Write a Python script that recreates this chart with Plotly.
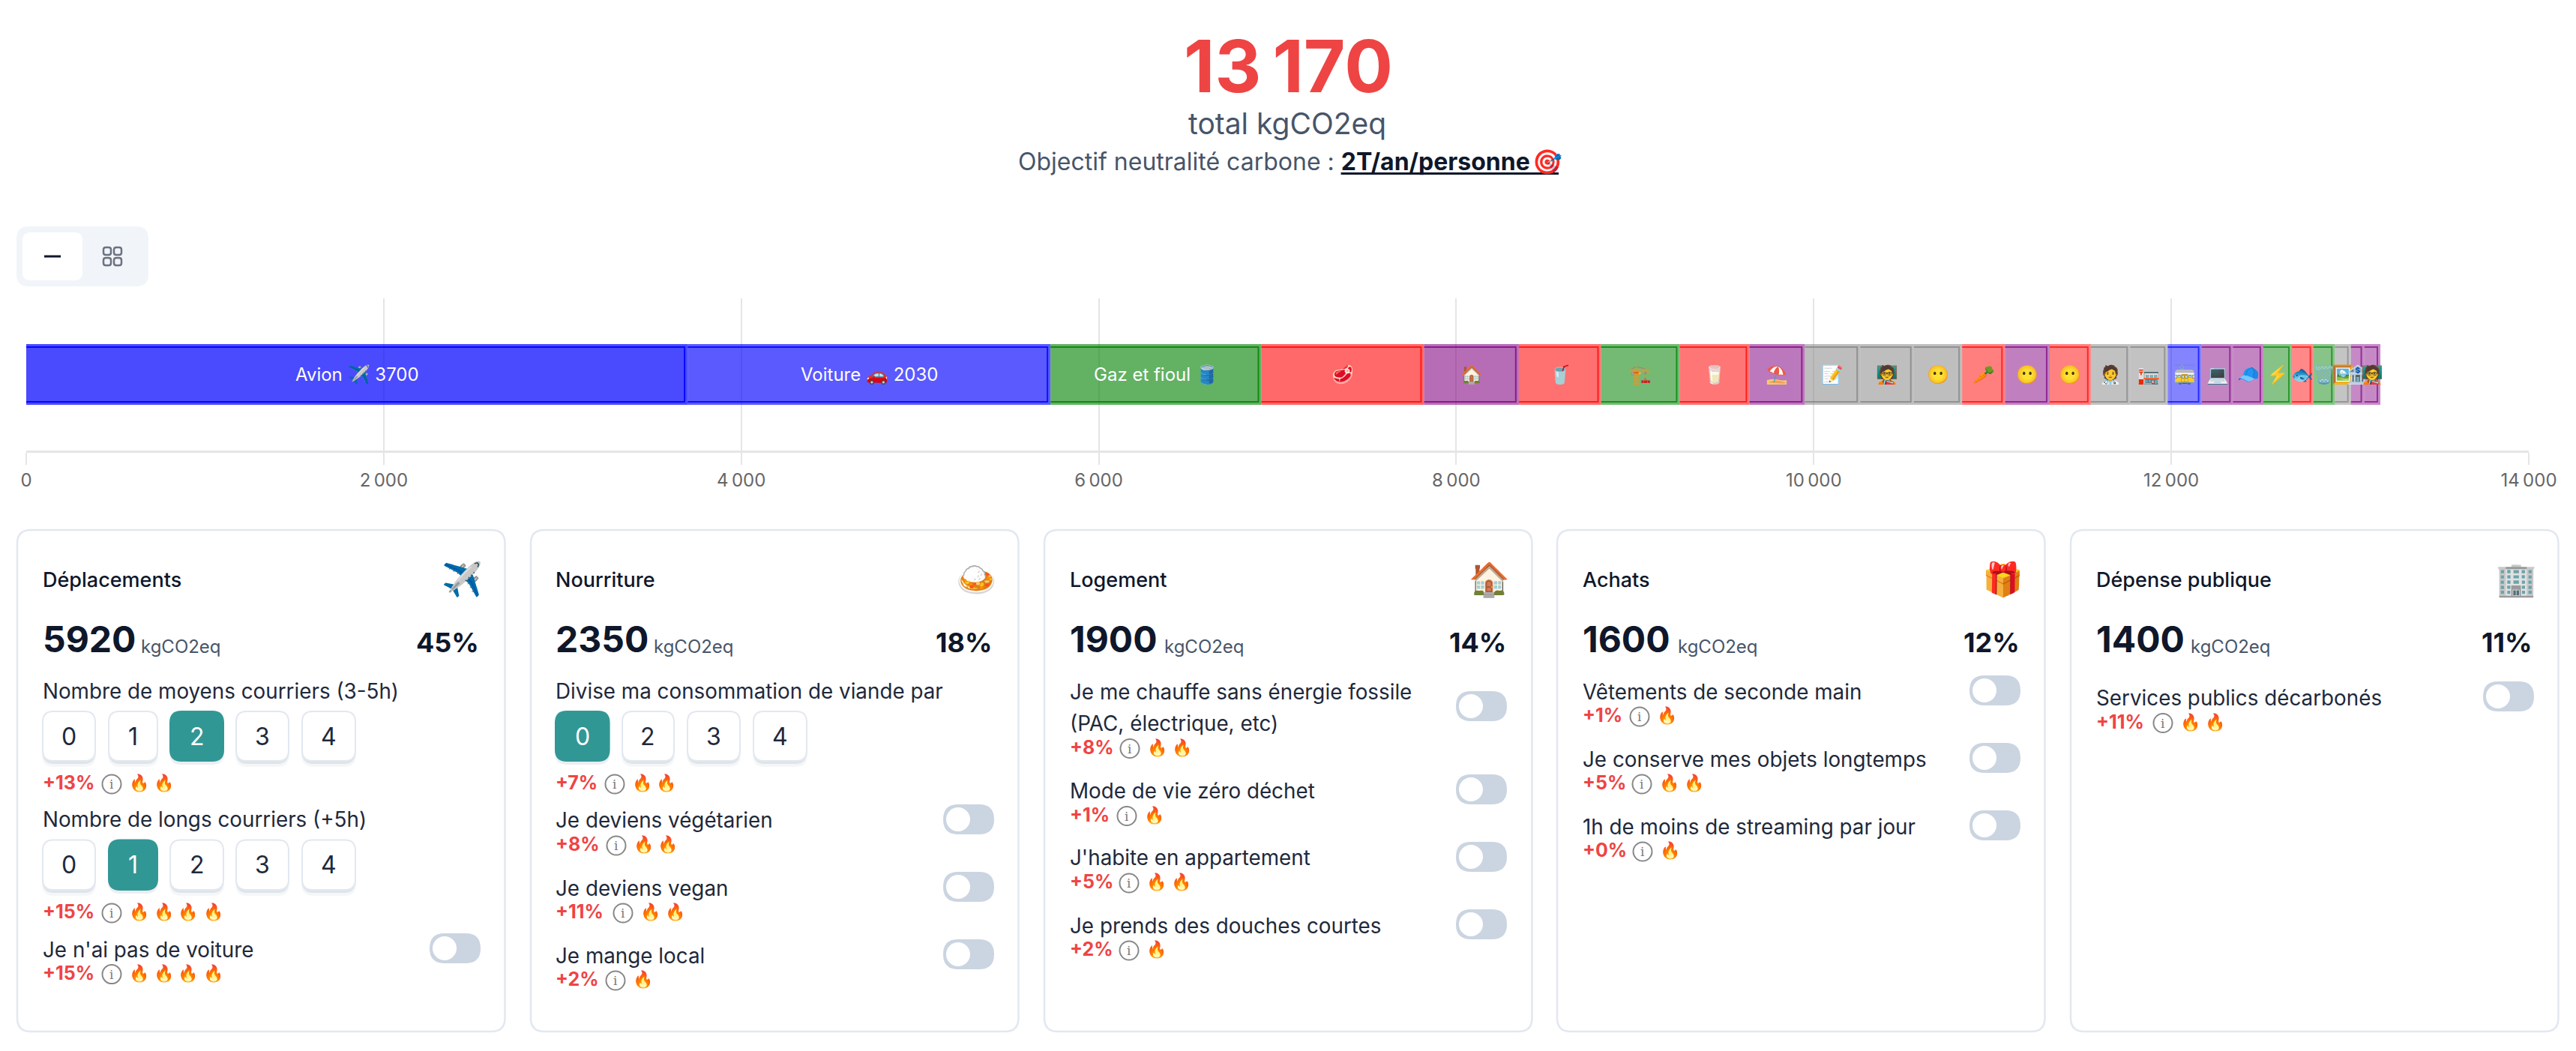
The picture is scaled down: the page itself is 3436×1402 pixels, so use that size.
import plotly.graph_objects as go

W, H = 3436, 1402
FONT = "Inter, 'Noto Sans', sans-serif"
INK = "#0f172a"
SLATE = "#475569"
RED = "#ef4444"
TEAL = "#319795"

total_label = "13\u202f170"
seg_labels = ["Avion", "Voiture", "Gaz et fioul", "", "", "", "", "", "", "", "", "", "", "", "", "", "", "", "", "", "", "", "", "", "", ""]
seg_emoji = ["✈️", "🚗", "🛢️", "🥩", "🏠", "🥤", "🏗️", "🥛", "⛱️", "📝", "🧑‍🏫", "😶", "🥕", "😶", "😶", "🧑‍⚕️", "🏣", "🚋", "💻", "🧢", "⚡", "🐟", "🗑️", "🖼️", "🏦", "🧑‍🏫"]
seg_values = [3700, 2030, 1180, 910, 530, 460, 440, 390, 310, 310, 300, 270, 240, 250, 230, 220, 210, 190, 175, 170, 160, 120, 120, 90, 75, 90]
seg_groups = ["d", "d", "l", "n", "a", "n", "l", "n", "a", "p", "p", "p", "n", "a", "n", "p", "p", "d", "a", "a", "l", "n", "l", "p", "a", "a"]
seg_shown = [True, True, False] + [False] * 23
x_ticks = [0, 2000, 4000, 6000, 8000, 10000, 12000, 14000]
x_ticktext = ["0", "2\u202f000", "4\u202f000", "6\u202f000", "8\u202f000", "10\u202f000", "12\u202f000", "14\u202f000"]
group_rgb = {"d": (0, 0, 255), "l": (0, 128, 0), "n": (255, 0, 0), "a": (128, 0, 128), "p": (128, 128, 128)}

card_titles = ["Déplacements", "Nourriture", "Logement", "Achats", "Dépense publique"]
card_emoji = ["✈️", "🍛", "🏠", "🎁", "🏢"]
card_totals = ["5920", "2350", "1900", "1600", "1400"]
card_shares = ["45%", "18%", "14%", "12%", "11%"]

def px(x): return x / W
def py(y): return 1 - y / H

shapes, ann = [], []
BODY = "#1e293b"

def text(x, y, s, size=28, color=INK, anchor="left", weight=400, family=FONT):
    nudge = {"left": -2, "right": 2, "center": 0}[anchor]
    ann.append(dict(xref="paper", yref="paper", x=px(x + nudge), y=py(y), text=s, showarrow=False, xanchor=anchor, yanchor="middle",
                    font=dict(family=family, size=size, color=color, weight=weight)))

def rrect(x0, y0, x1, y1, r, fill="rgba(0,0,0,0)", line=None, lw=0):
    p = (f"M {px(x0+r)} {py(y0)} L {px(x1-r)} {py(y0)} Q {px(x1)} {py(y0)} {px(x1)} {py(y0+r)} "
         f"L {px(x1)} {py(y1-r)} Q {px(x1)} {py(y1)} {px(x1-r)} {py(y1)} L {px(x0+r)} {py(y1)} "
         f"Q {px(x0)} {py(y1)} {px(x0)} {py(y1-r)} L {px(x0)} {py(y0+r)} Q {px(x0)} {py(y0)} {px(x0+r)} {py(y0)} Z")
    shapes.append(dict(type="path", xref="paper", yref="paper", path=p, fillcolor=fill, layer="below",
                       line=dict(color=line or "rgba(0,0,0,0)", width=lw)))

def circle(cx, cy, r, fill="rgba(0,0,0,0)", line=None, lw=0):
    shapes.append(dict(type="circle", xref="paper", yref="paper", x0=px(cx-r), x1=px(cx+r), y0=py(cy+r), y1=py(cy-r),
                       fillcolor=fill, layer="below", line=dict(color=line or "rgba(0,0,0,0)", width=lw)))

def seg(x0, y0, x1, y1, color, lw):
    shapes.append(dict(type="line", xref="paper", yref="paper", x0=px(x0), x1=px(x1), y0=py(y0), y1=py(y1),
                       line=dict(color=color, width=lw), layer="below"))

def button(x0, x1, y0, y1, label, selected=False):
    if selected:
        rrect(x0 - 1, y0 + 5, x1 + 1, y1 + 5, 16, fill="rgba(148,163,184,0.18)")
        rrect(x0 - 1, y0 - 1, x1 + 1, y1 + 1, 16, fill=TEAL)
        text((x0 + x1) / 2, (y0 + y1) / 2, label, 32, "#ffffff", "center")
    else:
        rrect(x0 - 1, y0 + 7, x1 + 1, y1 + 8, 16, fill="rgba(148,163,184,0.10)")
        rrect(x0, y0 + 4, x1, y1 + 4, 15, fill="rgba(148,163,184,0.22)")
        rrect(x0, y0, x1, y1, 14, fill="#ffffff", line="#e2e8f0", lw=2)
        text((x0 + x1) / 2, (y0 + y1) / 2, label, 32, BODY, "center")

def toggle(x0, y0):
    rrect(x0, y0, x0 + 68, y0 + 40, 20, fill="#cbd5e1")
    circle(x0 + 20, y0 + 20, 16, fill="#ffffff")

def impact(x, y, pct, info_x, flames):
    text(x, y, pct, 25, RED, weight=700)
    circle(info_x, y + 2, 12.5, line="#888888", lw=2)
    text(info_x, y + 2, "i", 17, "#777777", "center", family="'DejaVu Serif', serif")
    for fx in flames:
        text(fx, y, "🔥", 22, "#f97316", "center")

# header
text(1718, 88, total_label, 96, RED, "center", 700)
text(1717, 165, "total kgCO2eq", 39, SLATE, "center")
text(1357.5, 216, f"Objectif neutralité carbone : <b><span style='color:{INK}'>2T/an/personne</span></b>\u200a🎯", 32, SLATE)
seg(1788.6, 231.5, 2079, 231.5, INK, 3)

# view switch
rrect(22, 302, 198, 382, 16, fill="#f1f5f9")
rrect(30, 310, 110, 374, 11, fill="#ffffff")
seg(59, 342, 81, 342, INK, 3)
for gx in (138, 152):
    for gy in (330, 344):
        rrect(gx, gy, gx + 10, gy + 10, 3, line="#6b7280", lw=2.5)

# cards
card_lefts = [23, 708, 1393, 2077, 2762]
for i, l in enumerate(card_lefts):
    r = l + 650.5
    rrect(l, 707, r, 1376, 18, fill="#ffffff", line="#e2e8f0", lw=2.5)
inner = [57, 741.4, 1427, 2111.4, 2796]
kg_x = [188, 872, 1553, 2238, 2922.4]
share_r = [639, 1324, 2008.5, 2694, 3378]
emoji_cx = [616, 1302, 1986, 2671, 3356]
for i in range(5):
    text(inner[i], 773.6, card_titles[i], 27, INK, weight=500)
    text(emoji_cx[i], 772, card_emoji[i], 44, INK, "center")
    text(inner[i], 853, card_totals[i], 48, INK, weight=700)
    text(kg_x[i], 862.6, "kgCO2eq", 24, SLATE)
    text(share_r[i], 857, card_shares[i], 36, INK, "right", 700)

# card 1
text(57, 921.6, "Nombre de moyens courriers (3-5h)", 27.8, BODY)
for (a, b), lab in zip([(57, 127), (145, 210), (227, 298), (315, 385), (403, 474)], "01234"):
    button(a, b, 949, 1015, lab, lab == "2")
impact(57, 1044, "+13%", 149, [185, 218])
text(57, 1093, "Nombre de longs courriers (+5h)", 27.8, BODY)
for (a, b), lab in zip([(57, 127), (145, 210), (227, 298), (315, 385), (403, 474)], "01234"):
    button(a, b, 1120.5, 1187, lab, lab == "1")
impact(57, 1216, "+15%", 149, [185, 218, 251, 284])
text(57, 1267, "Je n'ai pas de voiture", 27.8, BODY)
toggle(573, 1245)
impact(57, 1297.6, "+15%", 149, [185, 218, 251, 284])

# card 2
text(741.4, 921.6, "Divise ma consommation de viande par", 27.8, BODY)
for (a, b), lab in zip([(741, 812.6), (830, 899), (917, 987), (1005, 1076)], "0234"):
    button(a, b, 949, 1015, lab, lab == "0")
impact(741.4, 1044, "+7%", 820, [856, 889])
text(741.4, 1094, "Je deviens végétarien", 27.8, BODY)
toggle(1258, 1073)
impact(741.4, 1126, "+8%", 822, [858, 891])
text(741.4, 1185, "Je deviens vegan", 27.8, BODY)
toggle(1258, 1163)
impact(741.4, 1216, "+11%", 831, [867, 900])
text(741.4, 1274.5, "Je mange local", 27.8, BODY)
toggle(1258, 1253)
impact(741.4, 1306, "+2%", 821, [857])

# card 3
text(1427, 923, "Je me chauffe sans énergie fossile", 27.8, BODY)
text(1427, 965, "(PAC, électrique, etc)", 27.8, BODY)
toggle(1942, 922)
impact(1427, 996.5, "+8%", 1507, [1543, 1576])
text(1427, 1055, "Mode de vie zéro déchet", 27.8, BODY)
toggle(1942, 1033)
impact(1427, 1086.5, "+1%", 1503, [1539])
text(1427, 1144, "J'habite en appartement", 27.8, BODY)
toggle(1942, 1123)
impact(1427, 1176, "+5%", 1506, [1542, 1575])
text(1427, 1234.5, "Je prends des douches courtes", 27.8, BODY)
toggle(1942, 1213)
impact(1427, 1266, "+2%", 1506, [1542])

# card 4
text(2111.4, 923, "Vêtements de seconde main", 27.8, BODY)
toggle(2627, 901)
impact(2111.4, 954, "+1%", 2187, [2223])
text(2111.4, 1013, "Je conserve mes objets longtemps", 27.8, BODY)
toggle(2627, 991)
impact(2111.4, 1044, "+5%", 2190, [2226, 2259])
text(2111.4, 1103, "1h de moins de streaming par jour", 27.8, BODY)
toggle(2627, 1081)
impact(2111.4, 1134, "+0%", 2191, [2227])

# card 5
text(2796, 930.7, "Services publics décarbonés", 27.8, BODY)
toggle(3312, 909)
impact(2796, 962.5, "+11%", 2885, [2921, 2954])

# stacked bar
bases, c = [], 0
for v in seg_values:
    bases.append(c)
    c += v
alphas = [0.71 * (i + 1) ** -0.135 for i in range(len(seg_values))]
fills = [f"rgba({group_rgb[g][0]},{group_rgb[g][1]},{group_rgb[g][2]},{a:.3f})" for g, a in zip(seg_groups, alphas)]
fig = go.Figure()
fig.add_trace(go.Bar(y=[0] * len(seg_values), x=seg_values, base=bases, orientation="h", width=0.4,
                     marker=dict(color=fills, line=dict(width=0)), hoverinfo="skip", showlegend=False))
INSET = 17
for b, v, g, a in zip(bases, seg_values, seg_groups, alphas):
    rgb = group_rgb[g]
    fig.add_trace(go.Scatter(x=[b, b + v - INSET, b + v - INSET, b], y=[0.18, 0.18, -0.18, -0.18], mode="lines",
                             line=dict(color=f"rgba({rgb[0]},{rgb[1]},{rgb[2]},{min(a + 0.2, 1):.3f})", width=2),
                             hoverinfo="skip", showlegend=False))

for b, v, lab, em, shown in zip(bases, seg_values, seg_labels, seg_emoji, seg_shown):
    if lab:
        s = f"{lab} {em} {v}" if shown else f"{lab} {em}"
    else:
        s = em
    ann.append(dict(xref="x", yref="y", x=b + v / 2, y=0, text=s, showarrow=False, xanchor="center", yanchor="middle",
                    font=dict(family=FONT, size=24, color="#ffffff")))

fig.update_layout(
    width=W, height=H, margin=dict(l=0, r=0, t=0, b=0), paper_bgcolor="#ffffff", plot_bgcolor="rgba(0,0,0,0)",
    barmode="overlay", shapes=shapes, annotations=ann, showlegend=False, font=dict(family=FONT),
    xaxis=dict(domain=[px(35), px(3373)], range=[0, 14000], tickvals=x_ticks, ticktext=x_ticktext, automargin=False,
               tickfont=dict(family=FONT, size=24, color="#666666"), ticks="outside", ticklen=16, tickwidth=2,
               tickcolor="#e5e5e5", gridcolor="#e5e5e5", gridwidth=2, showline=True, linecolor="#e5e5e5", linewidth=3,
               zeroline=False, fixedrange=True),
    yaxis=dict(domain=[py(601), py(398)], range=[-0.5, 0.5], visible=False, automargin=False, fixedrange=True),
)
fig.write_html("out.html", config=dict(displayModeBar=False), post_script="document.body.style.margin='0';")
